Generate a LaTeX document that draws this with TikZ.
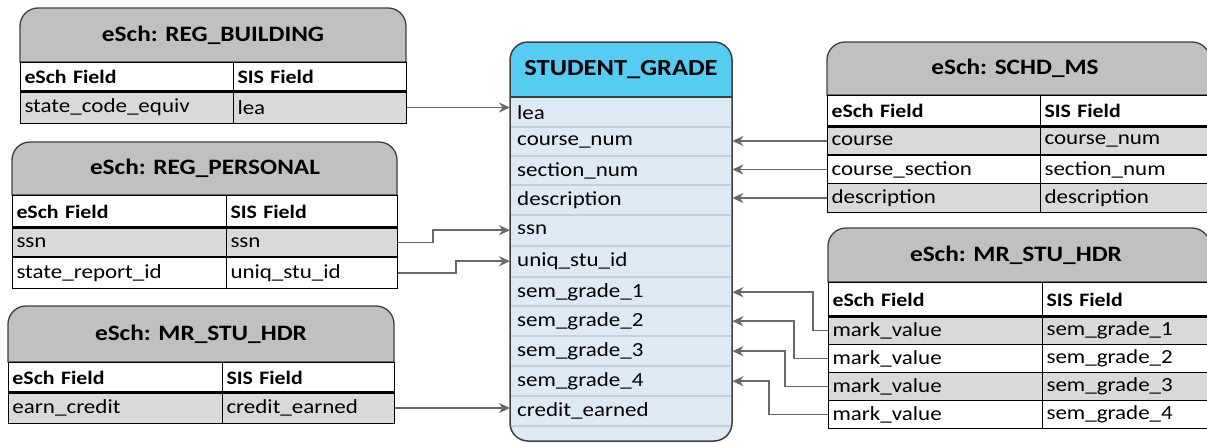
\documentclass[tikz,border=0pt]{standalone}
\usepackage{fontspec}
\setmainfont{Carlito}[FakeStretch=1.15]
\usetikzlibrary{arrows.meta}
\definecolor{ttlgray}{RGB}{192,192,192}
\definecolor{rowgray}{RGB}{217,217,217}
\definecolor{sghead}{RGB}{86,204,243}
\definecolor{sgbody}{RGB}{221,234,246}
\definecolor{sgline}{RGB}{196,208,220}
\definecolor{linkgray}{RGB}{105,105,105}
\definecolor{edge}{RGB}{64,64,64}

\begin{document}
\begin{tikzpicture}[
x=1pt, y=-1pt,
ttl/.style={fill=ttlgray, draw=edge, line width=1.3pt},
ttltext/.style={font=\fontsize{22}{26}\selectfont\bfseries, inner sep=0pt},
cell/.style={draw=black, line width=1pt, anchor=north west, minimum height=30pt,
  inner xsep=4pt, inner ysep=0pt, align=left, font=\fontsize{20}{24}\selectfont},
hcell/.style={cell, fill=white, font=\fontsize{19}{23}\selectfont\bfseries},
grayrow/.style={cell, fill=rowgray},
whiterow/.style={cell, fill=white},
sgrow/.style={anchor=north west, minimum height=30pt, text width=208pt, inner xsep=7pt,
  inner ysep=0pt, align=left, font=\fontsize{20}{24}\selectfont},
link/.style={draw=linkgray, line width=1.6pt, -{Stealth[length=11pt,width=10pt]}}
]
\useasboundingbox (0,0) rectangle (1207,442);

% STUDENT_GRADE
\fill[sgbody, rounded corners=18pt] (510,42) rectangle (732,441);
\fill[sghead] (510,97) [rounded corners=18pt] -- (510,42) -- (732,42) [sharp corners] -- (732,97) -- cycle;
\node[ttltext, font=\fontsize{23}{27}\selectfont\bfseries] (sg) at (621,70) {STUDENT\_GRADE};
\foreach \nm/\y/\txt in {lea/97/lea, cnum/127/course\_num, snum/156/section\_num,
  desc/185/description, ssn/215/ssn, uniq/246/uniq\_stu\_id, sem1/277/sem\_grade\_1,
  sem2/306/sem\_grade\_2, sem3/336/sem\_grade\_3, sem4/366/sem\_grade\_4,
  credit/396/credit\_earned}
  \node[sgrow] (sg-\nm) at (510,\y) {\txt};
\foreach \y in {127,156,185,215,246,277,306,336,366,396,426}
  \draw[sgline, line width=1.5pt] (511,\y) -- (731,\y);
\draw[edge, line width=1.3pt] (510,97) -- (732,97);
\draw[edge, line width=1.5pt, rounded corners=18pt] (510,42) rectangle (732,441);

% eSch: REG_BUILDING
\draw[ttl] (20,62) [rounded corners=18pt] -- (20,8) -- (406,8) [sharp corners] -- (406,62) -- cycle;
\node[ttltext] (bld) at (213,35) {eSch: REG\_BUILDING};
\node[hcell, text width=205pt, minimum height=29pt] (bld-h-l) at (20,62) {eSch Field};
\node[hcell, text width=165pt, minimum height=29pt] (bld-h-r) at (233,62) {SIS Field};
\node[grayrow, text width=205pt, minimum height=32pt] (bld-lea-l) at (20,91) {state\_code\_equiv};
\node[grayrow, text width=165pt, minimum height=32pt] (bld-lea-r) at (233,91) {lea};
\draw[line width=3pt] (20,91) -- (406,91);

% eSch: REG_PERSONAL
\draw[ttl] (12,195) [rounded corners=18pt] -- (12,142) -- (397,142) [sharp corners] -- (397,195) -- cycle;
\node[ttltext] (per) at (205,168) {eSch: REG\_PERSONAL};
\node[hcell, text width=206pt, minimum height=32pt] (per-h-l) at (12,195) {eSch Field};
\node[hcell, text width=163pt, minimum height=32pt] (per-h-r) at (226,195) {SIS Field};
\node[grayrow, text width=206pt] (per-ssn-l) at (12,227) {ssn};
\node[grayrow, text width=163pt] (per-ssn-r) at (226,227) {ssn};
\node[whiterow, text width=206pt, minimum height=31pt] (per-uniq-l) at (12,257) {state\_report\_id};
\node[whiterow, text width=163pt, minimum height=31pt] (per-uniq-r) at (226,257) {uniq\_stu\_id};
\draw[line width=3pt] (12,227) -- (397,227);
\draw[line width=2pt] (12,257) -- (397,257);

% eSch: MR_STU_HDR (left)
\draw[ttl] (8,362) [rounded corners=18pt] -- (8,306) -- (394,306) [sharp corners] -- (394,362) -- cycle;
\node[ttltext] (mrl) at (201,334) {eSch: MR\_STU\_HDR};
\node[hcell, text width=206pt] (mrl-h-l) at (8,362) {eSch Field};
\node[hcell, text width=164pt] (mrl-h-r) at (222,362) {SIS Field};
\node[grayrow, text width=206pt, minimum height=31pt] (mrl-earn-l) at (8,392) {earn\_credit};
\node[grayrow, text width=164pt, minimum height=31pt] (mrl-earn-r) at (222,392) {credit\_earned};
\draw[line width=3pt] (8,392) -- (394,392);

% eSch: SCHD_MS
\draw[ttl] (827,95) [rounded corners=18pt] -- (827,42) -- (1210,42) [sharp corners] -- (1210,95) -- cycle;
\node[ttltext] (sch) at (1015,68) {eSch: SCHD\_MS};
\node[hcell, text width=205pt, minimum height=31pt] (sch-h-l) at (827,95) {eSch Field};
\node[hcell, text width=162pt, minimum height=31pt] (sch-h-r) at (1040,95) {SIS Field};
\node[grayrow, text width=205pt, minimum height=29pt] (sch-c-l) at (827,126) {course};
\node[grayrow, text width=162pt, minimum height=29pt] (sch-c-r) at (1040,126) {course\_num};
\node[whiterow, text width=205pt, minimum height=28pt] (sch-s-l) at (827,155) {course\_section};
\node[whiterow, text width=162pt, minimum height=28pt] (sch-s-r) at (1040,155) {section\_num};
\node[grayrow, text width=205pt, minimum height=29pt] (sch-d-l) at (827,183) {description};
\node[grayrow, text width=162pt, minimum height=29pt] (sch-d-r) at (1040,183) {description};
\draw[line width=3pt] (827,126) -- (1210,126);
\draw[line width=2pt] (827,155) -- (1210,155);

% eSch: MR_STU_HDR (right)
\draw[ttl] (828,282) [rounded corners=18pt] -- (828,228) -- (1210,228) [sharp corners] -- (1210,282) -- cycle;
\node[ttltext] (mrr) at (1016,255) {eSch: MR\_STU\_HDR};
\node[hcell, text width=206pt, minimum height=34pt] (mrr-h-l) at (828,282) {eSch Field};
\node[hcell, text width=160pt, minimum height=34pt] (mrr-h-r) at (1042,282) {SIS Field};
\foreach \i/\y/\st in {1/316/grayrow, 2/344/whiterow, 3/372/grayrow, 4/400/whiterow} {
  \node[\st, text width=206pt, minimum height=28pt] (mrr-\i-l) at (828,\y) {mark\_value};
  \node[\st, text width=160pt, minimum height=28pt] (mrr-\i-r) at (1042,\y) {sem\_grade\_\i};
}
\draw[line width=3pt] (828,316) -- (1210,316);

% connectors
\draw[link] (bld-lea-r.east) -- (bld-lea-r.east -| sg-lea.west);
\draw[link] (per-ssn-r.east) -- ++(35,0) |- (sg-ssn.west);
\draw[link] (per-uniq-r.east) -- ++(58,0) |- (sg-uniq.west);
\draw[link] (mrl-earn-r.east) -- (mrl-earn-r.east -| sg-credit.west);
\draw[link] (sch-c-l.west) -- (sch-c-l.west -| sg-cnum.east);
\draw[link] (sch-s-l.west) -- (sch-s-l.west -| sg-snum.east);
\draw[link] (sch-d-l.west) -- (sch-d-l.west -| sg-desc.east);
\draw[link] (mrr-1-l.west) -- ++(-15,0) |- (sg-sem1.east);
\draw[link] (mrr-2-l.west) -- ++(-34,0) |- (sg-sem2.east);
\draw[link] (mrr-3-l.west) -- ++(-43,0) |- (sg-sem3.east);
\draw[link] (mrr-4-l.west) -- ++(-59,0) |- (sg-sem4.east);

\end{tikzpicture}
\end{document}
